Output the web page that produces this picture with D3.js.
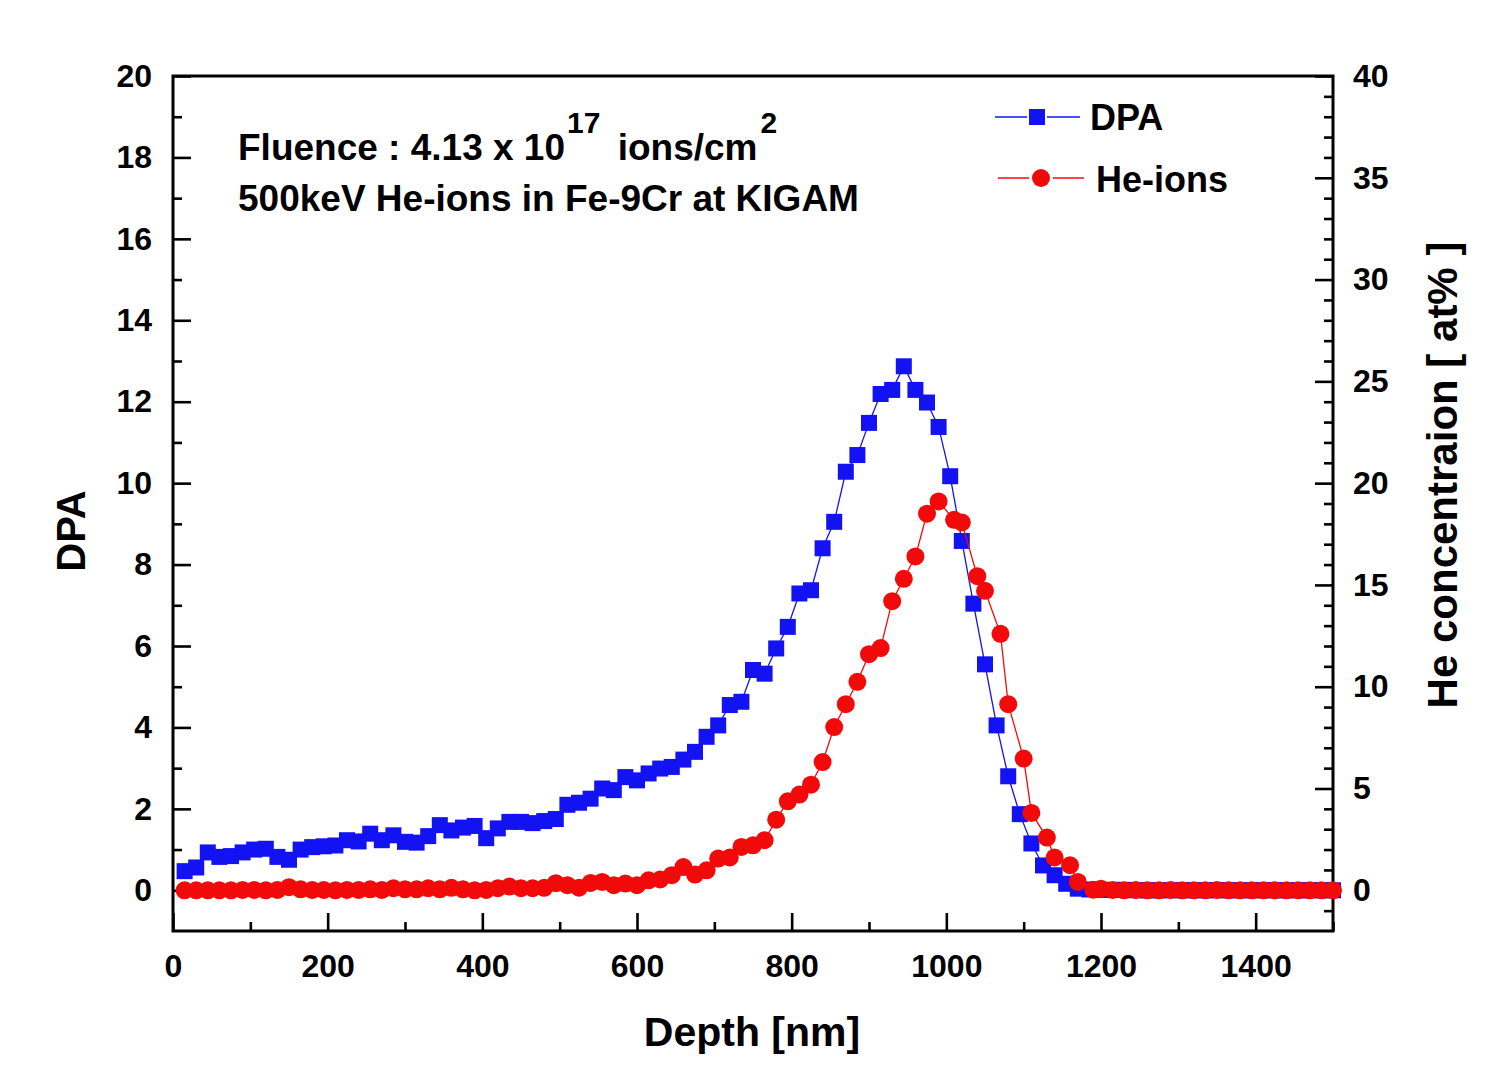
<!DOCTYPE html>
<html><head><meta charset="utf-8">
<script src="https://cdn.jsdelivr.net/npm/d3@7"></script>
<style>
html,body{margin:0;padding:0;background:#fff;}
text{font-family:"Liberation Sans",Arial,sans-serif;font-weight:bold;fill:#000;}
</style>
</head><body>
<svg id="chart" width="1505" height="1081"></svg>
<script>
// ---------- data ----------
const dpaDepth = [15,30,45,60,75,90,105,120,135,150,165,180,195,210,225,240,255,270,285,300,
  315,330,345,360,375,390,405,420,435,450,465,480,495,510,525,540,555,570,585,600,
  615,630,645,660,675,690,705,720,735,750,765,780,795,810,825,840,855,870,885,900,
  915,930,945,960,975,990,1005,1020,1035,1050,1065,1080,1095,1110,1125,1140,1155,1170,1185,1200,
  1215,1230,1245,1260,1275,1290,1305,1320,1335,1350,1365,1380,1395,1410,1425,1440,1455,1470,1485,1500];
const dpaValues = [0.47,0.56,0.93,0.82,0.84,0.93,1.0,1.02,0.82,0.75,1.0,1.06,1.08,1.1,1.23,1.2,1.39,1.23,1.35,1.19,
  1.17,1.33,1.6,1.47,1.54,1.58,1.28,1.52,1.68,1.68,1.65,1.70,1.75,2.1,2.15,2.25,2.5,2.46,2.78,2.70,
  2.87,2.99,3.03,3.21,3.40,3.77,4.05,4.55,4.63,5.41,5.32,5.94,6.47,7.29,7.37,8.40,9.05,10.28,10.69,11.48,
  12.19,12.29,12.87,12.29,11.98,11.38,10.17,8.58,7.04,5.55,4.05,2.80,1.87,1.15,0.61,0.37,0.16,0.04,0.02,0.01,
  0.01,0.01,0,0,0,0,0,0,0,0,0,0,0,0,0,0,0,0,0,0];

const heDepth = [15,30,45,60,75,90,105,120,135,150,165,180,195,210,225,240,255,270,285,300,
  315,330,345,360,375,390,405,420,435,450,465,480,495,510,525,540,555,570,585,600,
  615,630,645,660,675,690,705,720,735,750,765,780,795,810,825,840,855,870,885,900,
  915,930,945,960,975,990,1010,1020,1040,1050,1070,1080,1100,1110,1130,1140,1160,1170,1190,1200,
  1215,1230,1245,1260,1275,1290,1305,1320,1335,1350,1365,1380,1395,1410,1425,1440,1455,1470,1485,1500];
const heValues = [0,0,0,0,0,0.02,0.02,0,0.02,0.15,0.05,0.02,0.02,0,0.02,0.02,0.05,0.02,0.1,0.05,
  0.05,0.1,0.05,0.12,0.05,0,0.02,0.1,0.18,0.1,0.1,0.12,0.35,0.25,0.13,0.36,0.41,0.25,0.33,0.25,
  0.49,0.53,0.74,1.14,0.77,0.98,1.56,1.61,2.13,2.21,2.46,3.47,4.37,4.70,5.19,6.30,8.02,9.14,10.24,11.6,
  11.9,14.2,15.3,16.4,18.5,19.1,18.2,18.07,15.43,14.71,12.6,9.14,6.47,3.80,2.59,1.61,1.23,0.41,0.03,0.08,
  0.02,0,0.02,0,0,0.02,0,0,0,0.02,0,0,0,0,0,0,0,0,0,0];

const xTicks = [0,200,400,600,800,1000,1200,1400];
const xMinorTicks = [100,300,500,700,900,1100,1300,1500];
const yLeftTicks = [0,2,4,6,8,10,12,14,16,18,20];
const yLeftMinor = [1,3,5,7,9,11,13,15,17,19];
const yRightTicks = [0,5,10,15,20,25,30,35,40];
const yRightMinor = [-1,1,2,3,4,6,7,8,9,11,12,13,14,16,17,18,19,21,22,23,24,26,27,28,29,31,32,33,34,36,37,38,39];

const seriesNames = ["DPA","He-ions"];
const blue = "#1212f2", red = "#f20a0a";

// ---------- scales ----------
const svg = d3.select("#chart");
svg.append("rect").attr("width",1505).attr("height",1081).attr("fill","#fff");
const L = 173, R = 1333, T = 76, B = 931;
const x = d3.scaleLinear().domain([0,1500]).range([L,R]);
const yL = d3.scaleLinear().domain([-1,20]).range([B,T]);
const yR = d3.scaleLinear().domain([-2,40]).range([B,T]);

function styleAxis(g){
  g.select(".domain").remove();
  g.selectAll("line").attr("stroke","#000").attr("stroke-width",2.6);
  g.selectAll("text").style("font-size","32px").attr("fill","#000");
}

// bottom axis
svg.append("g").attr("transform",`translate(0,${B})`)
  .call(d3.axisBottom(x).tickValues(xTicks).tickSize(-18).tickPadding(23).tickFormat(d3.format("d")))
  .call(styleAxis);
svg.append("g").attr("transform",`translate(0,${B})`)
  .call(d3.axisBottom(x).tickValues(xMinorTicks).tickSize(-9).tickFormat(""))
  .call(styleAxis);
// left axis
svg.append("g").attr("transform",`translate(${L},0)`)
  .call(d3.axisLeft(yL).tickValues(yLeftTicks).tickSize(-18).tickPadding(21).tickFormat(d3.format("d")))
  .call(styleAxis);
svg.append("g").attr("transform",`translate(${L},0)`)
  .call(d3.axisLeft(yL).tickValues(yLeftMinor).tickSize(-9).tickFormat(""))
  .call(styleAxis);
// right axis
svg.append("g").attr("transform",`translate(${R},0)`)
  .call(d3.axisRight(yR).tickValues(yRightTicks).tickSize(-18).tickPadding(20).tickFormat(d3.format("d")))
  .call(styleAxis);
svg.append("g").attr("transform",`translate(${R},0)`)
  .call(d3.axisRight(yR).tickValues(yRightMinor).tickSize(-9).tickFormat(""))
  .call(styleAxis);

// frame
svg.append("rect").attr("x",L).attr("y",T).attr("width",R-L).attr("height",B-T)
  .attr("fill","none").attr("stroke","#000").attr("stroke-width",3);

// ---------- series ----------
const dpaData = dpaDepth.map((d,i)=>({x:d,y:dpaValues[i]}));
const heData = heDepth.map((d,i)=>({x:d,y:heValues[i]}));
const S = 16, RAD = 9;

svg.append("path").datum(dpaData)
  .attr("d", d3.line().x(d=>x(d.x)).y(d=>yL(d.y)))
  .attr("fill","none").attr("stroke",blue).attr("stroke-width",1.3);
svg.append("g").selectAll("rect").data(dpaData).join("rect")
  .attr("x",d=>x(d.x)-S/2).attr("y",d=>yL(d.y)-S/2).attr("width",S).attr("height",S)
  .attr("fill",blue);

svg.append("path").datum(heData)
  .attr("d", d3.line().x(d=>x(d.x)).y(d=>yR(d.y)))
  .attr("fill","none").attr("stroke",red).attr("stroke-width",1.3);
svg.append("g").selectAll("circle").data(heData).join("circle")
  .attr("cx",d=>x(d.x)).attr("cy",d=>yR(d.y)).attr("r",RAD)
  .attr("fill",red);

// ---------- axis titles ----------
svg.append("text").attr("x",752).attr("y",1046).attr("text-anchor","middle")
  .style("font-size","41px").text("Depth [nm]");
svg.append("text").attr("transform","translate(85,531) rotate(-90)").attr("text-anchor","middle")
  .style("font-size","40px").text("DPA");
svg.append("text").attr("transform","translate(1457,475) rotate(-90)").attr("text-anchor","middle")
  .style("font-size","42px").text("He concentraion [ at% ]");

// ---------- annotation ----------
const ann = svg.append("text").attr("x",238).attr("y",160).style("font-size","37px");
ann.append("tspan").text("Fluence : 4.13 x 10");
ann.append("tspan").attr("dx",2).attr("dy",-27).style("font-size","30px").text("17");
ann.append("tspan").attr("dx",7).attr("dy",27).text(" ions/cm");
ann.append("tspan").attr("dx",3).attr("dy",-27).style("font-size","30px").text("2");
svg.append("text").attr("x",238).attr("y",211).style("font-size","37px")
  .text("500keV He-ions in Fe-9Cr at KIGAM");

// ---------- legend ----------
const lg = svg.append("g");
// DPA
lg.append("line").attr("x1",995).attr("x2",1080).attr("y1",117).attr("y2",117)
  .attr("stroke",blue).attr("stroke-width",1.3);
lg.append("rect").attr("x",1037-S/2-2).attr("y",117-S/2-2).attr("width",S+4).attr("height",S+4).attr("fill","#fff");
lg.append("rect").attr("x",1037-S/2).attr("y",117-S/2).attr("width",S).attr("height",S).attr("fill",blue);
lg.append("text").attr("x",1090).attr("y",130).style("font-size","36px").text(seriesNames[0]);
// He
lg.append("line").attr("x1",998).attr("x2",1084).attr("y1",178).attr("y2",178)
  .attr("stroke",red).attr("stroke-width",1.3);
lg.append("circle").attr("cx",1041).attr("cy",178).attr("r",RAD+3).attr("fill","#fff");
lg.append("circle").attr("cx",1041).attr("cy",178).attr("r",RAD).attr("fill",red);
lg.append("text").attr("x",1096).attr("y",192).style("font-size","36px").text(seriesNames[1]);
</script>
</body></html>
